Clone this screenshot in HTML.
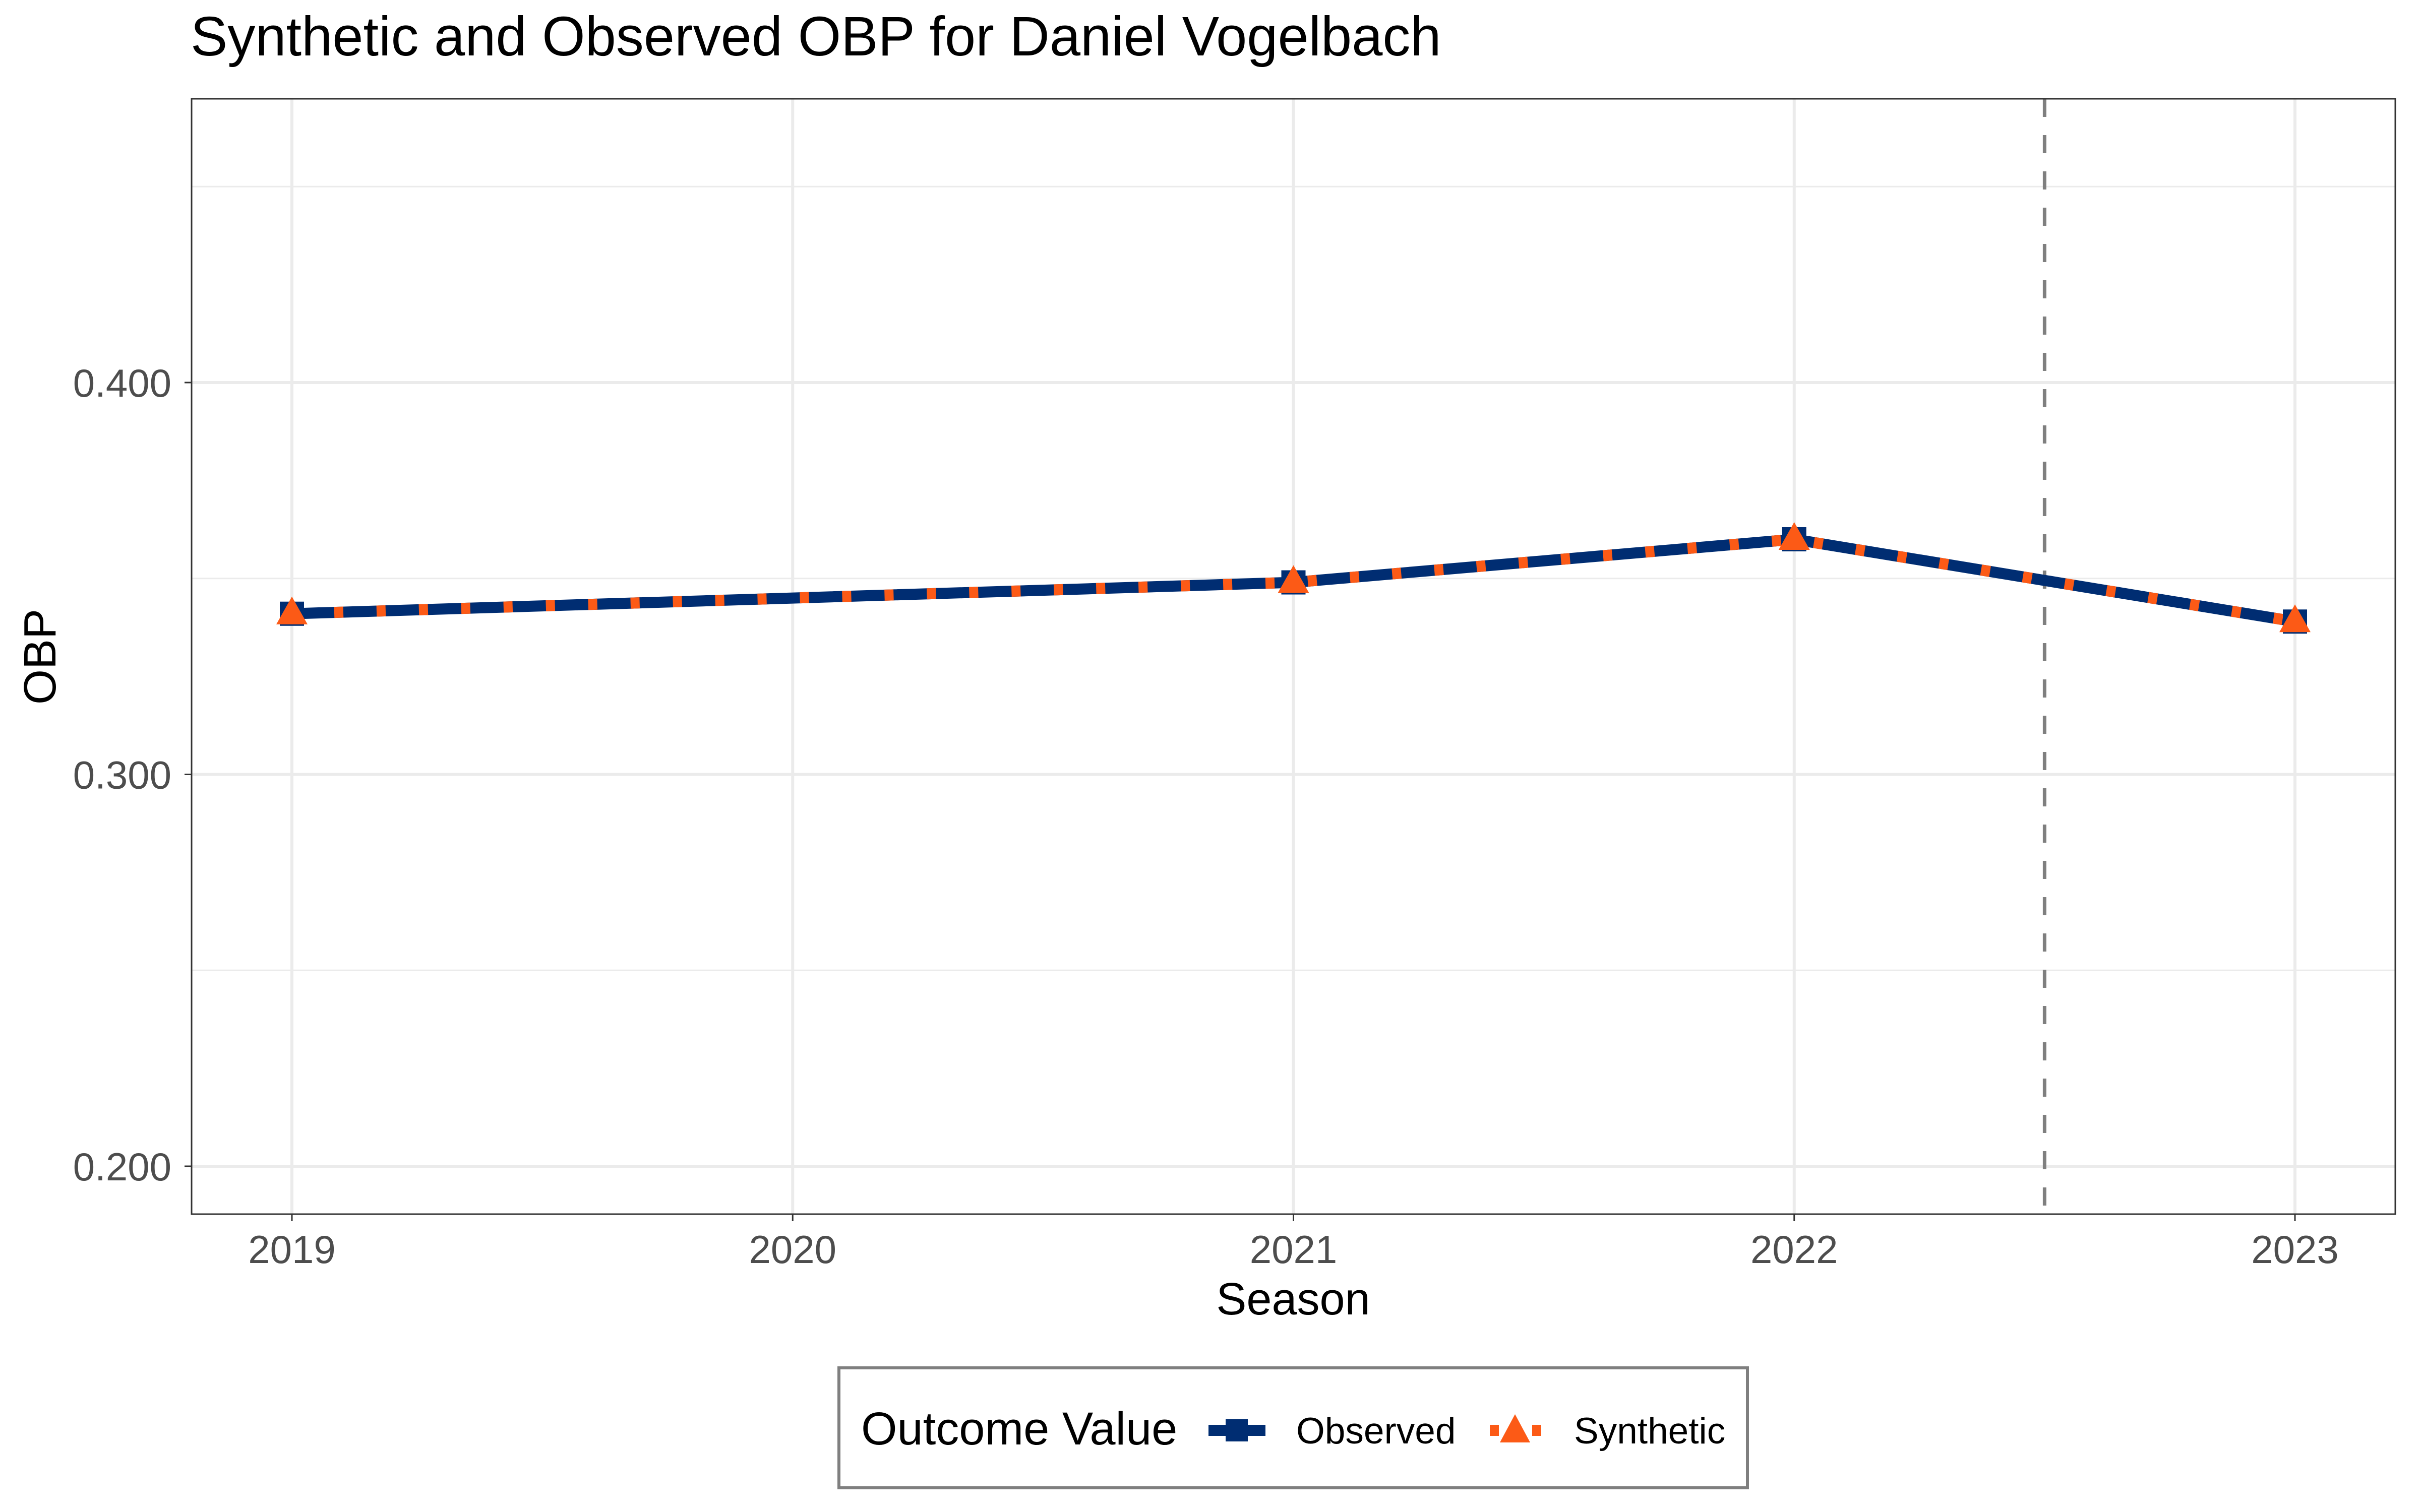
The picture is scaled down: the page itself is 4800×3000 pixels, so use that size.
<!DOCTYPE html>
<html><head><meta charset="utf-8"><style>
html,body{margin:0;padding:0;background:#fff}
svg{display:block;font-family:"Liberation Sans",sans-serif}
</style></head><body>
<svg id="chart" width="4800" height="3000" viewBox="0 0 4800 3000">
<rect width="4800" height="3000" fill="#fff"/>
<text x="378" y="110" font-size="110" fill="#000">Synthetic and Observed OBP for Daniel Vogelbach</text>
<g id="grid"></g>
<g id="marks"></g>
<rect x="380" y="196" width="4371" height="2213" fill="none" stroke="#333" stroke-width="3"/>
<g id="axes"></g>
<text x="2565" y="2608" font-size="90" text-anchor="middle">Season</text>
<text transform="translate(110,1303) rotate(-90)" font-size="90" text-anchor="middle">OBP</text>
<g>
<rect x="1664" y="2714" width="1802" height="238" fill="#fff" stroke="#7f7f7f" stroke-width="6"/>
<text x="1708" y="2866" font-size="92">Outcome Value</text>
<g>
<line x1="2397" y1="2838" x2="2510" y2="2838" stroke="#002d72" stroke-width="22"/>
<rect x="2431" y="2816" width="44" height="44" fill="#002d72"/>
<text x="2571" y="2864" font-size="73">Observed</text>
</g>
<g>
<line x1="2948" y1="2838" x2="3061" y2="2838" stroke="#fc5a16" stroke-width="22" stroke-dasharray="18,66" stroke-dashoffset="-7"/>
<polygon points="3005,2806 2975,2862 3035,2862" fill="#fc5a16"/>
<text x="3122" y="2864" font-size="73">Synthetic</text>
</g>
</g>
</svg>
<script>
const seasons=[2019,2020,2021,2022,2023];
const observed=[0.341,0.345,0.349,0.360,0.339];
const synthetic=[0.341,0.345,0.349,0.360,0.339];
const markerSeasons=[2019,2021,2022,2023];
const yTicks=[0.2,0.3,0.4];
const yMinor=[0.25,0.35,0.45];
const tickLabels=["0.200","0.300","0.400"];
const treatment=2022.5;

const NS="http://www.w3.org/2000/svg";
const L=380,R=4751,T=196,B=2409;
const x=v=>579+(v-2019)*993.25;
const y=v=>759+(0.4-v)*7775;
function mk(tag,attrs,parent){const e=document.createElementNS(NS,tag);for(const k in attrs)e.setAttribute(k,attrs[k]);parent.appendChild(e);return e;}
const grid=document.getElementById('grid'),marks=document.getElementById('marks'),axes=document.getElementById('axes');

yMinor.forEach(v=>{const l=mk('line',{x1:L,x2:R,y1:y(v),y2:y(v),stroke:'#ebebeb','stroke-width':3},grid);

});
yTicks.forEach((v,i)=>{const l=mk('line',{x1:L,x2:R,y1:y(v),y2:y(v),stroke:'#ebebeb','stroke-width':6},grid);


const tk=mk('line',{x1:L-14,x2:L,y1:y(v),y2:y(v),stroke:'#333','stroke-width':3},axes);


const t=mk('text',{x:L-40,y:y(v)+28,'font-size':78,'text-anchor':'end',fill:'#4d4d4d'},axes);t.textContent=tickLabels[i];

});
seasons.forEach(s=>{const l=mk('line',{x1:x(s),x2:x(s),y1:T,y2:B,stroke:'#ebebeb','stroke-width':6},grid);


const tk=mk('line',{x1:x(s),x2:x(s),y1:B,y2:B+14,stroke:'#333','stroke-width':3},axes);


const t=mk('text',{x:x(s),y:B+97,'font-size':78,'text-anchor':'middle',fill:'#4d4d4d'},axes);t.textContent=s;

});

const vl=mk('line',{x1:x(treatment),x2:x(treatment),y1:T,y2:B,stroke:'#7f7f7f','stroke-width':7,'stroke-dasharray':'36,36'},marks);



const ptsO=seasons.map((s,i)=>x(s)+','+y(observed[i])).join(' ');
const ptsS=seasons.map((s,i)=>x(s)+','+y(synthetic[i])).join(' ');
const lo=mk('polyline',{points:ptsO,fill:'none',stroke:'#002d72','stroke-width':22,'stroke-linejoin':'round'},marks);


const ls=mk('polyline',{points:ptsS,fill:'none',stroke:'#fc5a16','stroke-width':22,'stroke-dasharray':'18,66'},marks);



markerSeasons.forEach(s=>{const i=seasons.indexOf(s);
const sq=mk('rect',{x:x(s)-24,y:y(observed[i])-24,width:48,height:48,fill:'#002d72'},marks);


const cx=x(s),cy=y(synthetic[i]);
const tr=mk('polygon',{points:`${cx},${cy-34} ${cx-31},${cy+21} ${cx+31},${cy+21}`,fill:'#fc5a16'},marks);

});
</script>
</body></html>
